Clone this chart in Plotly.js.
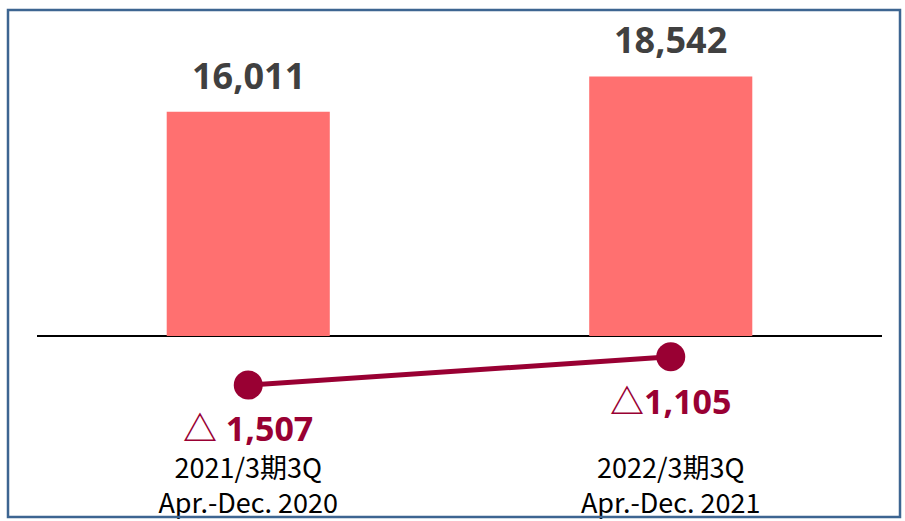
<!DOCTYPE html>
<html>
<head>
<meta charset="utf-8">
<script src="https://cdn.plot.ly/plotly-3.0.1.min.js"></script>
<style>
html,body{margin:0;padding:0;background:#fff;}
#chart{width:905px;height:521px;}
</style>
</head>
<body>
<div id="chart"></div>
<script>
// Data
const categories = ["2021/3期3Q<br>Apr.-Dec. 2020", "2022/3期3Q<br>Apr.-Dec. 2021"];
const barValues = [16011, 18542];
const lineValues = [-1507, -1105];
const barLabels = ["16,011", "18,542"];
const lineLabels = ["△ 1,507", "△1,105"];

const W = 905, H = 521;
const plotL = 37, plotR = 882, plotT = 20, plotB = 450;
const plotH = plotB - plotT;
// primary y: zero at pixel 336, 0.014 px per unit
const zeroPx = 336, k1 = 0.014;
const yRange = [-(plotB - zeroPx) / k1, (zeroPx - plotT) / k1];
// secondary y: zero at pixel 279, 0.0704 px per unit
const zero2 = 279, k2 = 0.0704;
const y2Range = [-(plotB - zero2) / k2, (zero2 - plotT) / k2];

const xIdx = categories.map((c, i) => i);

const traces = [
  {
    type: 'bar', x: xIdx, y: barValues, width: 0.386,
    marker: {color: '#ff7070'}, hoverinfo: 'none', yaxis: 'y'
  },
  {
    type: 'scatter', mode: 'lines+markers', x: xIdx, y: lineValues, yaxis: 'y2',
    line: {color: '#990033', width: 5},
    marker: {color: '#990033', size: 29},
    cliponaxis: false, hoverinfo: 'none'
  }
];

const lineShift = [-43, -44];
const annotations = [];
xIdx.forEach((x, i) => {
  annotations.push({
    x: x, y: barValues[i], xref: 'x', yref: 'y', text: barLabels[i],
    showarrow: false, yanchor: 'bottom', yshift: 10,
    font: {family: 'Noto Sans, sans-serif', size: 36, color: '#404040', weight: 'bold'}
  });
  annotations.push({
    x: x, y: lineValues[i], xref: 'x', yref: 'y2', text: '<b>' + lineLabels[i] + '</b>',
    showarrow: false, yanchor: 'middle', yshift: lineShift[i],
    font: {family: 'Noto Sans, Noto Sans CJK JP, sans-serif', size: 34, color: '#990033'}
  });
});

const pw = plotR - plotL, ph = plotH;
const px = v => (v - plotL) / pw;
const py = v => (plotB - v) / ph;

const layout = {
  width: W, height: H,
  margin: {l: plotL, r: W - plotR, t: plotT, b: H - plotB, pad: 0},
  paper_bgcolor: '#fff', plot_bgcolor: '#fff',
  showlegend: false,
  xaxis: {
    range: [-0.5, 1.5], tickmode: 'array', tickvals: xIdx, ticktext: categories,
    showgrid: false, zeroline: false, showline: false, ticks: '',
    tickfont: {family: 'Noto Sans CJK JP, sans-serif', size: 27, color: '#000'},
    fixedrange: true
  },
  yaxis: {
    range: yRange, showgrid: false, zeroline: true, zerolinecolor: '#000', zerolinewidth: 2,
    showticklabels: false, ticks: '', showline: false, fixedrange: true
  },
  yaxis2: {
    range: y2Range, overlaying: 'y', side: 'right', visible: false, showgrid: false, zeroline: false, fixedrange: true
  },
  annotations: annotations,
  shapes: [{
    type: 'rect', xref: 'paper', yref: 'paper',
    x0: px(8), x1: px(900), y0: py(517), y1: py(10),
    line: {color: '#3d6591', width: 2.5}, fillcolor: 'rgba(0,0,0,0)', layer: 'above'
  }]
};

Plotly.newPlot('chart', traces, layout, {displayModeBar: false, staticPlot: true});
</script>
</body>
</html>
